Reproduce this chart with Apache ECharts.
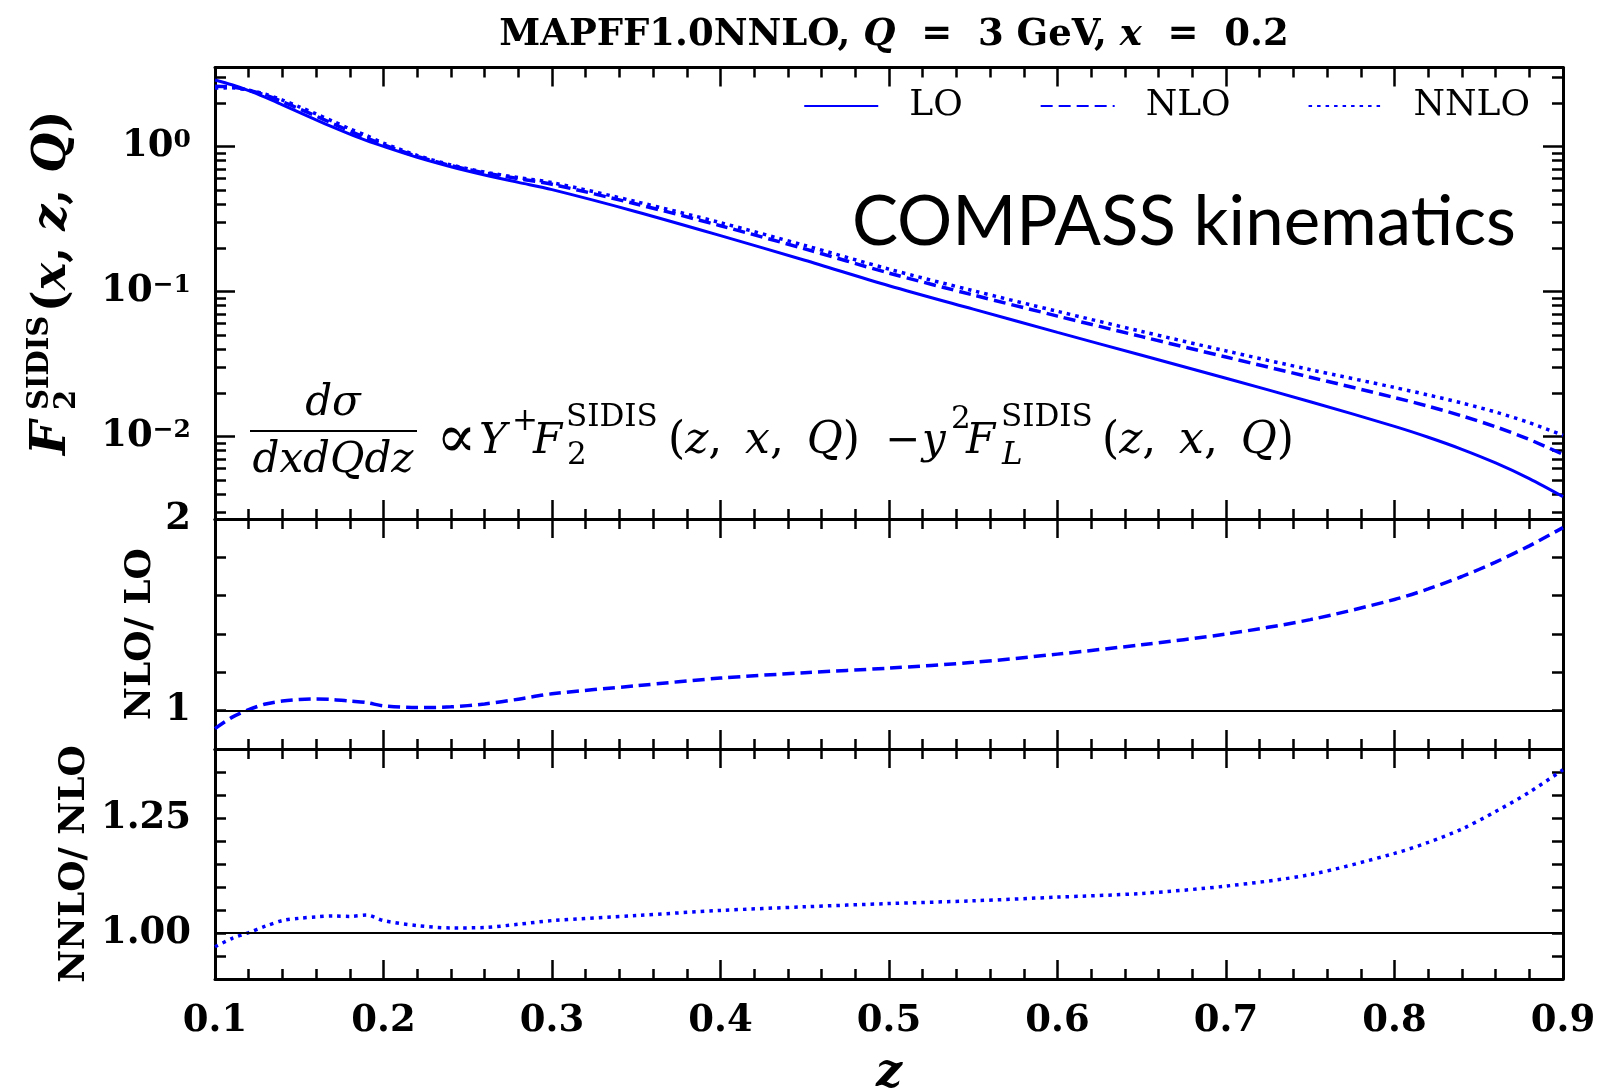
<!DOCTYPE html>
<html><head><meta charset="utf-8">
<script src="https://cdn.jsdelivr.net/npm/echarts@6/dist/echarts.min.js"></script>
<style>html,body{margin:0;padding:0;background:#fff}#c{width:1603px;height:1092px}</style>
</head><body><div id="c"></div>
<script>
// ---------------- data ----------------
const zVals = [0.10,0.11,0.12,0.13,0.14,0.15,0.16,0.17,0.18,0.19,0.20,0.22,0.24,0.26,0.28,0.30,0.35,0.40,0.45,0.50,0.55,0.60,0.65,0.70,0.75,0.80,0.82,0.84,0.86,0.88,0.90];
const loVals = [2.871,2.661,2.427,2.178,1.936,1.718,1.524,1.358,1.216,1.096,1.000,0.841,0.724,0.635,0.5649,0.5035,0.3548,0.2427,0.1641,0.1096,0.07551,0.05224,0.03631,0.02523,0.01738,0.01175,0.009886,0.008166,0.006577,0.005129,0.00385];
const nloVals = [2.601,2.568,2.439,2.254,2.033,1.818,1.617,1.437,1.277,1.142,1.025,0.854,0.738,0.657,0.599,0.548,0.401,0.284,0.1966,0.1339,0.09454,0.06765,0.0488,0.03532,0.02564,0.01857,0.01616,0.01388,0.01167,0.00954,0.00753];
const nnloVals = [2.523,2.537,2.441,2.288,2.088,1.876,1.674,1.490,1.323,1.187,1.053,0.868,0.746,0.665,0.610,0.563,0.416,0.298,0.2078,0.1425,0.1012,0.07293,0.0530,0.03892,0.0289,0.02178,0.01934,0.01702,0.01475,0.01246,0.0102];
const ratioNloLo = [0.906,0.965,1.005,1.035,1.050,1.058,1.061,1.058,1.050,1.042,1.025,1.016,1.020,1.035,1.060,1.088,1.130,1.170,1.198,1.222,1.252,1.295,1.344,1.400,1.475,1.580,1.635,1.700,1.775,1.860,1.955];
const ratioNnloNlo = [0.970,0.988,1.001,1.015,1.027,1.032,1.035,1.037,1.036,1.039,1.027,1.016,1.011,1.012,1.019,1.027,1.038,1.049,1.057,1.064,1.070,1.078,1.086,1.102,1.127,1.173,1.197,1.226,1.264,1.306,1.355];
const seriesNames = ['LO','NLO','NNLO'];
const logMajorTicks = [0.01, 0.1, 1];
const logMinorTicks = [0.003,0.004,0.005,0.006,0.007,0.008,0.009,0.02,0.03,0.04,0.05,0.06,0.07,0.08,0.09,0.2,0.3,0.4,0.5,0.6,0.7,0.8,0.9,2,3];
const ratio1Labels = [1, 2];
const ratio2Labels = [1.00, 1.25];

// ---------------- helpers ----------------
const BLACK = '#000';
const BLUE = '#0000ff';
const FAM = 'DejaVu Serif';
const tickFont = {color: BLACK, fontFamily: FAM, fontWeight: 'bold', fontSize: 37};
const lineW = 3, tickW = 2.5;
const pair = (xs, ys) => xs.map((x, i) => [x, ys[i]]);

function xAx(grid, pos, showLabel) {
  const a = {
    type: 'value', gridIndex: grid, position: pos, min: 0.1, max: 0.9, interval: 0.1,
    axisLine: {show: true, onZero: false, lineStyle: {color: BLACK, width: lineW}},
    axisTick: {show: true, inside: true, length: 19, lineStyle: {color: BLACK, width: tickW}},
    minorTick: {show: true, splitNumber: 5, length: 10, lineStyle: {color: BLACK, width: tickW}},
    splitLine: {show: false}, minorSplitLine: {show: false},
    axisLabel: {show: false}
  };
  if (showLabel) {
    a.axisLabel = Object.assign({show: true, margin: 24, showMinLabel: true, showMaxLabel: true,
      formatter: v => v.toFixed(1)}, tickFont);
    a.name = 'z';
    a.nameLocation = 'middle';
    a.nameGap = 72;
    a.nameMoveOverlap = false;
    a.nameTextStyle = {color: BLACK, fontFamily: FAM, fontWeight: 'bold', fontStyle: 'italic', fontSize: 46};
  }
  return a;
}
function logAx(pos, major, showLabel) {
  const a = {
    type: 'log', gridIndex: 0, position: pos, logBase: 10, min: 0.0027, max: 3.5,
    axisLine: {show: major, onZero: false, lineStyle: {color: BLACK, width: lineW}},
    axisTick: {show: true, inside: true, length: major ? 20 : 11,
      customValues: major ? logMajorTicks : logMinorTicks, lineStyle: {color: BLACK, width: tickW}},
    minorTick: {show: false}, splitLine: {show: false}, minorSplitLine: {show: false},
    axisLabel: {show: false}
  };
  if (showLabel) {
    a.axisLabel = {show: true, margin: 24, customValues: logMajorTicks,
      formatter: v => {
        const e = Math.round(Math.log10(v));
        return '{b|10}{s|' + (e < 0 ? '\u2212' + (-e) : String(e)) + '}';
      },
      rich: {
        b: {color: BLACK, fontFamily: FAM, fontWeight: 'bold', fontSize: 37},
        s: {color: BLACK, fontFamily: FAM, fontWeight: 'bold', fontSize: 25, verticalAlign: 'top'}
      }};
  }
  return a;
}
function ratioAx(grid, pos, min, max, interval, labels, digits, name, gap) {
  const a = {
    type: 'value', gridIndex: grid, position: pos, min: min, max: max, interval: interval,
    axisLine: {show: true, onZero: false, lineStyle: {color: BLACK, width: lineW}},
    axisTick: {show: true, inside: true, length: 11, lineStyle: {color: BLACK, width: tickW}},
    minorTick: {show: false}, splitLine: {show: false}, minorSplitLine: {show: false},
    axisLabel: {show: false}
  };
  if (pos === 'left') {
    a.axisLabel = Object.assign({show: true, margin: 24, showMinLabel: true, showMaxLabel: true,
      formatter: v => labels.some(l => Math.abs(l - v) < 1e-6) ? v.toFixed(digits) : ''}, tickFont);
    a.name = name;
    a.nameLocation = 'middle';
    a.nameRotate = 90;
    a.nameGap = gap;
    a.nameMoveOverlap = false;
    a.nameTextStyle = {color: BLACK, fontFamily: FAM, fontWeight: 'bold', fontSize: 36};
  }
  return a;
}
// text with given baseline
function txt(x, base, text, font, size, align) {
  return {type: 'text', x: x, y: base - 0.346 * size, silent: true,
    style: {text: text, font: font, fill: BLACK, align: align || 'left', textAlign: align || 'left',
      verticalAlign: 'middle', textVerticalAlign: 'middle'}};
}
// rich run of upright / italic pieces
function runTxt(x, base, size, bold, parts) {
  const w = bold ? 'bold' : 'normal';
  const text = parts.map(p => '{' + (p[1] ? 'i' : 'u') + '|' + p[0] + '}').join('');
  return {type: 'text', x: x, y: base - 0.346 * size, silent: true,
    style: {text: text, fill: BLACK, align: 'left', textAlign: 'left', verticalAlign: 'middle', textVerticalAlign: 'middle',
      rich: {
        u: {fontFamily: FAM, fontSize: size, fontWeight: w, fontStyle: 'normal', fill: BLACK},
        i: {fontFamily: FAM, fontSize: size, fontWeight: w, fontStyle: 'italic', fill: BLACK}
      }}};
}
const M = `italic 42px '${FAM}'`, U = `42px '${FAM}'`, S = `31px '${FAM}'`, SI = `italic 31px '${FAM}'`;
const zxq = [['(',0],['z',1],[', \u2009',0],['x',1],[', \u2009',0],['Q',1],[')',0]];

const graphics = [
  // rotated y-axis title of the top panel
  {type: 'group', x: 69, y: 455, rotation: Math.PI / 2, children: [
    txt(0, 0, 'F', `italic bold 48px '${FAM}'`, 48),
    txt(45, -18, 'SIDIS', `bold 29px '${FAM}'`, 29),
    txt(45, 9, '2', `bold 29px '${FAM}'`, 29),
    runTxt(143, 0, 46, true, [['(',0],['x',1],[', ',0],['z',1],[', ',0],['Q',1],[')',0]])
  ]},
  // formula
  txt(333, 419, 'd\u03c3', M, 42, 'center'),
  txt(333, 476, 'dxdQdz', M, 42, 'center'),
  {type: 'line', silent: true, shape: {x1: 250, y1: 431, x2: 417, y2: 431}, style: {stroke: BLACK, lineWidth: 2}},
  txt(436, 462, '\u221d', `60px '${FAM}'`, 60),
  txt(479, 457, 'Y', M, 42),
  txt(512, 433, '+', S, 31),
  txt(533, 457, 'F', M, 42),
  txt(566, 429, 'SIDIS', S, 31),
  txt(567, 467, '2', S, 31),
  runTxt(668, 457, 44, false, zxq),
  txt(885, 457, '\u2212', U, 42),
  txt(922, 457, 'y', M, 42),
  txt(951, 431, '2', S, 31),
  txt(966, 457, 'F', M, 42),
  txt(1001, 429, 'SIDIS', S, 31),
  txt(1002, 467, 'L', SI, 31),
  runTxt(1102, 457, 44, false, zxq),
  // COMPASS kinematics
  {type: 'text', x: 1516, y: 250 - 0.39 * 70, silent: true,
    style: {text: 'COMPASS kinematics', font: "69px 'Lato'", fill: BLACK, align: 'right', textAlign: 'right',
      verticalAlign: 'middle', textVerticalAlign: 'middle'}}
];

const chart = echarts.init(document.getElementById('c'), null, {renderer: 'canvas'});
chart.setOption({
  animation: false,
  backgroundColor: '#fff',
  title: {
    text: '{b|MAPFF1.0NNLO, }{i|Q}{b|  =  3 GeV, }{i|x}{b|  =  0.2}',
    left: 889, top: 12, textAlign: 'center',
    textStyle: {rich: {
      b: {fontFamily: FAM, fontWeight: 'bold', fontSize: 37, color: BLACK},
      i: {fontFamily: FAM, fontWeight: 'bold', fontStyle: 'italic', fontSize: 37, color: BLACK}
    }}
  },
  legend: {
    data: seriesNames, right: 73, top: 88, orient: 'horizontal', padding: 0,
    itemWidth: 74, itemHeight: 14, itemGap: 77, selectedMode: false,
    itemStyle: {opacity: 0, color: 'rgba(0,0,0,0)', borderWidth: 0},
    textStyle: {color: BLACK, fontFamily: FAM, fontSize: 36, padding: [0, 0, 0, 26]}
  },
  grid: [
    {left: 215, right: 40, top: 67.5, height: 451.5, containLabel: false, outerBoundsMode: 'none'},
    {left: 215, right: 40, top: 519, height: 230, containLabel: false, outerBoundsMode: 'none'},
    {left: 215, right: 40, top: 749, height: 230, containLabel: false, outerBoundsMode: 'none'}
  ],
  xAxis: [
    xAx(0, 'bottom', false), xAx(0, 'top', false),
    xAx(1, 'bottom', false), xAx(1, 'top', false),
    xAx(2, 'bottom', true), xAx(2, 'top', false)
  ],
  yAxis: [
    logAx('left', true, true), logAx('left', false, false),
    logAx('right', true, false), logAx('right', false, false),
    ratioAx(1, 'left', 0.8, 2, 0.2, ratio1Labels, 0, 'NLO/ LO', 56),
    ratioAx(1, 'right', 0.8, 2, 0.2, ratio1Labels, 0, '', 0),
    ratioAx(2, 'left', 0.9, 1.4, 0.05, ratio2Labels, 2, 'NNLO/ NLO', 122),
    ratioAx(2, 'right', 0.9, 1.4, 0.05, ratio2Labels, 2, '', 0)
  ],
  graphic: {elements: graphics},
  series: [
    {name: 'LO', type: 'line', xAxisIndex: 0, yAxisIndex: 0, data: pair(zVals, loVals), symbol: 'none', smooth: 0.3,
      lineStyle: {color: BLUE, width: 3, type: 'solid'}, itemStyle: {color: BLUE}},
    {name: 'NLO', type: 'line', xAxisIndex: 0, yAxisIndex: 0, data: pair(zVals, nloVals), symbol: 'none', smooth: 0.3,
      lineStyle: {color: BLUE, width: 3.5, type: [12, 6], cap: 'butt'}, itemStyle: {color: BLUE}},
    {name: 'NNLO', type: 'line', xAxisIndex: 0, yAxisIndex: 0, data: pair(zVals, nnloVals), symbol: 'none', smooth: 0.3,
      lineStyle: {color: BLUE, width: 3.5, type: [3.5, 5], cap: 'butt'}, itemStyle: {color: BLUE}},
    {name: 'NLO/LO', type: 'line', xAxisIndex: 2, yAxisIndex: 4, data: pair(zVals, ratioNloLo), symbol: 'none', smooth: 0.3,
      lineStyle: {color: BLUE, width: 3.5, type: [12, 6], cap: 'butt'},
      markLine: {silent: true, symbol: ['none', 'none'], label: {show: false}, data: [{yAxis: 1}],
        lineStyle: {color: BLACK, width: 2, type: 'solid'}}},
    {name: 'NNLO/NLO', type: 'line', xAxisIndex: 4, yAxisIndex: 6, data: pair(zVals, ratioNnloNlo), symbol: 'none', smooth: 0.3,
      lineStyle: {color: BLUE, width: 3.5, type: [3.5, 5], cap: 'butt'},
      markLine: {silent: true, symbol: ['none', 'none'], label: {show: false}, data: [{yAxis: 1}],
        lineStyle: {color: BLACK, width: 2, type: 'solid'}}}
  ]
});
</script>
</body></html>
